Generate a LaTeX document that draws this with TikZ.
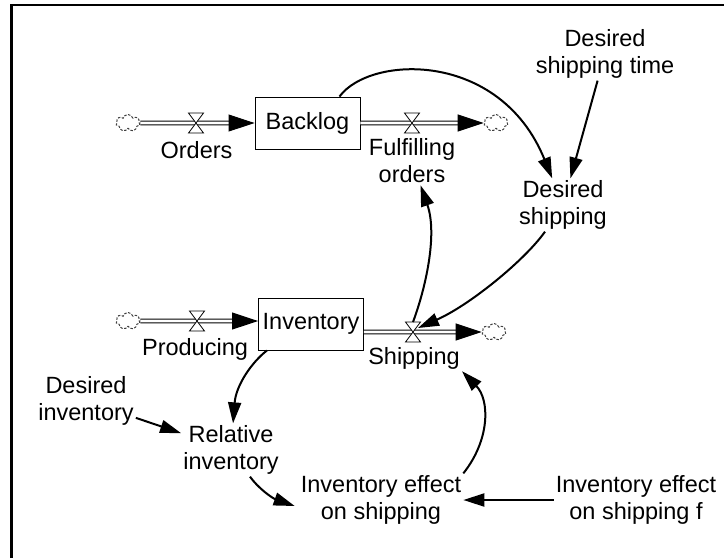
\documentclass[tikz,border=0pt]{standalone}
\usepackage{fontspec}
\setmainfont{Liberation Sans}
\usetikzlibrary{arrows.meta,shapes.symbols}
\begin{document}
\begin{tikzpicture}[x=1pt,y=-1pt,
    font=\fontsize{23.5}{27}\selectfont,
    txt/.style={align=center,inner sep=2pt},
    stock/.style={draw,line width=0.9pt,minimum width=105pt,minimum height=52pt,inner sep=0pt},
    sink/.style={cloud,cloud puffs=7,aspect=1.5,draw=black!75,dash pattern=on 2.5pt off 1.5pt,line width=1pt,minimum width=24pt,minimum height=17pt,inner sep=0pt},
    pipe/.style={double,double distance=2.8pt,line width=1pt,-{Triangle[length=26pt,width=17pt]}},
    info/.style={line width=2pt,-{Triangle[length=21pt,width=13pt]}},
    valve/.pic={\draw[fill=white,line width=0.8pt] (-7.5,-10) -- (7.5,-10) -- (-7.5,10) -- (7.5,10) -- cycle; \coordinate (-c) at (0,0);}]
  \useasboundingbox (0,0) rectangle (724,558);
  \draw[line width=2.2pt] (11.5,558) -- (11.5,5) -- (724,5);
  \node[stock] (bl) at (307.5,123) {Backlog};
  \node[stock] (inv) at (311,324) {Inventory};
  \node[sink] (c1) at (128,123) {}; \node[sink] (c2) at (496,123) {};
  \node[sink] (c3) at (128,321) {}; \node[sink] (c4) at (494,332) {};
  \draw[pipe] (c1) -- (bl);
  \draw[pipe] (bl) -- (c2);
  \draw[pipe] (c3) -- (inv.west |- c3);
  \draw[pipe] (inv.east |- c4) -- (c4);
  \pic (vo) at (196,123) {valve}; \pic (vf) at (412,123) {valve};
  \pic (vp) at (197,321) {valve}; \pic (vs) at (413,332) {valve};
  \node[txt] (orders) at (196.5,150.5) {Orders};
  \node[txt] (fo) at (412,161) {Fulfilling\\orders};
  \node[txt] (prod) at (195,349) {Producing};
  \node[txt] (ship) at (414,358) {Shipping};
  \node[txt] (dst) at (605,54) {Desired\\shipping time};
  \node[txt] (ds) at (563,205) {Desired\\shipping};
  \node[txt] (di) at (86,401) {Desired\\inventory};
  \node[txt] (ri) at (231,450) {Relative\\inventory};
  \node[txt] (ie) at (381,500) {Inventory effect\\on shipping};
  \node[txt] (ief) at (636,500) {Inventory effect\\on shipping f};
  \draw[info] ([xshift=32pt]bl.north) .. controls (370,55) and (500,50) .. (ds);
  \draw[info] (dst) -- (ds);
  \draw[info] ([xshift=-18pt]ds.south) .. controls (525,260) and (470,305) .. ([shift={(5,-4)}]vs-c);
  \draw[info] ([shift={(0,-10)}]vs-c) .. controls (425,290) and (438,235) .. (fo);
  \draw[info] ([xshift=-44pt]inv.south) .. controls (252,362) and (236,385) .. (ri);
  \draw[info] (di) -- (ri);
  \draw[info] ([xshift=19pt]ri.south) .. controls (258,488) and (272,498) .. ([shift={(-4,6)}]ie.west);
  \draw[info] (ie.north east) .. controls (490,440) and (490,400) .. (ship.south east);
  \draw[info] (ief) -- (ie);
\end{tikzpicture}
\end{document}
